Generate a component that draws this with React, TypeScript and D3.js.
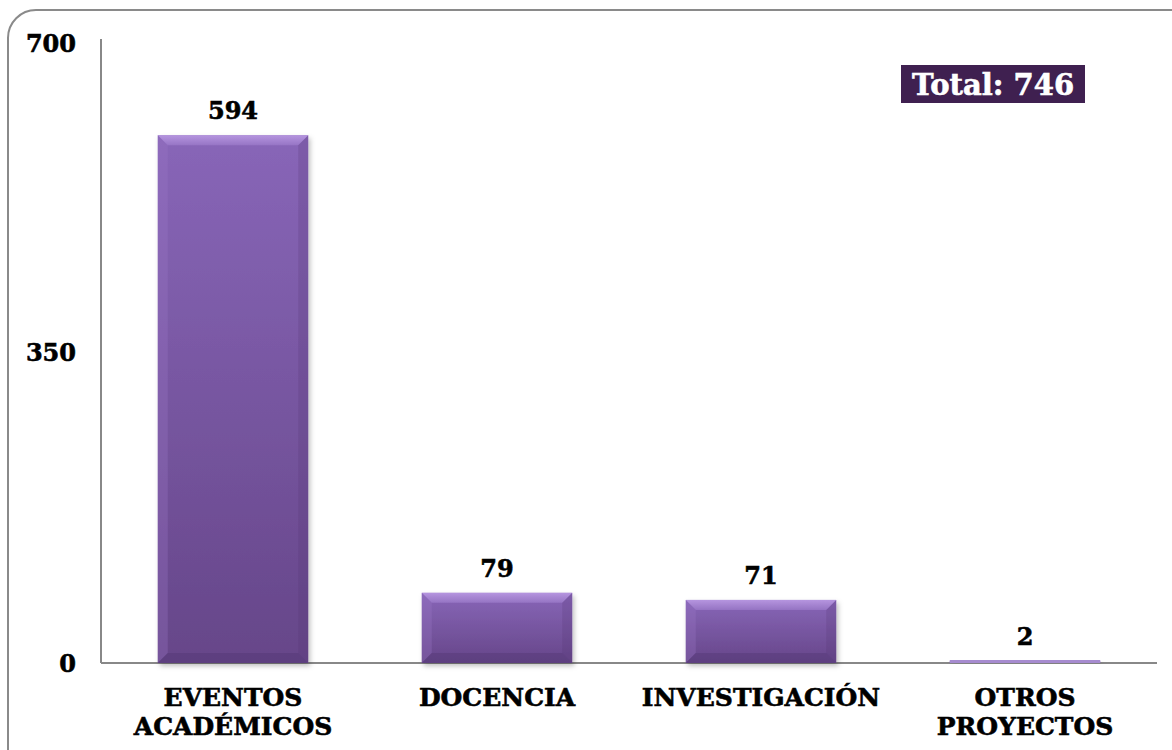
import React from "react";
import * as d3 from "d3";

const categories: string[][] = [["EVENTOS", "ACADÉMICOS"], ["DOCENCIA"], ["INVESTIGACIÓN"], ["OTROS", "PROYECTOS"]];
const values: number[] = [594, 79, 71, 2];
const yTicks: number[] = [0, 350, 700];
const totalLabel = "Total: 746";

const W = 1172, H = 750;
const FONT = "'DejaVu Serif', 'Liberation Serif', serif";

export default function App() {
  const x = d3.scaleBand<number>().domain(d3.range(values.length)).range([101, 1157]).paddingInner(0.43).paddingOuter(0.215);
  const y = d3.scaleLinear().domain([0, 700]).range([663, 41]);
  const bw = x.bandwidth();
  const bev = 10;
  return (
    <svg width={W} height={H} style={{ position: "absolute", left: 0, top: 0 }}>
      <defs>
        <linearGradient id="bar" x1="0" y1="0" x2="0" y2="1">
          <stop offset="0" stopColor="#8866b8" />
          <stop offset="1" stopColor="#664689" />
        </linearGradient>
        <linearGradient id="topBev" x1="0" y1="0" x2="0" y2="1">
          <stop offset="0" stopColor="#c9a9f0" />
          <stop offset="1" stopColor="#9d7ccb" />
        </linearGradient>
        <filter id="sh" x="-10%" y="-10%" width="120%" height="130%">
          <feDropShadow dx="2" dy="3" stdDeviation="2.5" floodColor="#000" floodOpacity="0.25" />
        </filter>
      </defs>
      <rect x={0} y={0} width={W} height={H} fill="#fff" />
      <rect x={8} y={10} width={1200} height={800} rx={28} fill="#fff" stroke="#8a8a8a" strokeWidth={2} />
      <line x1={101} x2={101} y1={39} y2={y(0)} stroke="#888" strokeWidth={2} />
      <line x1={101} x2={1157} y1={y(0)} y2={y(0)} stroke="#888" strokeWidth={2} />
      {yTicks.map((t) => (
        <text key={t} x={76} y={y(t) + (t === 700 ? 2 : 0)} textAnchor="end" dominantBaseline="central" fontFamily={FONT} fontWeight="bold" fontSize={24} fill="#000" stroke="#000" strokeWidth={0.6}>{t}</text>
      ))}
      {values.map((v, i) => {
        const x0 = x(i)!;
        const y0 = y(v);
        const y1 = y(0);
        const h = y1 - y0;
        const b = Math.min(bev, h / 2, bw / 2);
        return (
          <g key={i}>
            <rect x={x0} y={y0} width={bw} height={h} fill="url(#bar)" filter="url(#sh)" />
            {h > 6 ? (
              <g>
                <polygon points={`${x0},${y0} ${x0 + bw},${y0} ${x0 + bw - b},${y0 + b} ${x0 + b},${y0 + b}`} fill="url(#topBev)" opacity={0.7} />
                <polygon points={`${x0},${y0} ${x0 + b},${y0 + b} ${x0 + b},${y1 - b} ${x0},${y1}`} fill="#9a78c6" opacity={0.3} />
                <polygon points={`${x0 + bw},${y0} ${x0 + bw - b},${y0 + b} ${x0 + bw - b},${y1 - b} ${x0 + bw},${y1}`} fill="#4e3170" opacity={0.2} />
                <polygon points={`${x0},${y1} ${x0 + b},${y1 - b} ${x0 + bw - b},${y1 - b} ${x0 + bw},${y1}`} fill="#4a2e6a" opacity={0.3} />
              </g>
            ) : (
              <rect x={x0} y={y1 - 3} width={bw} height={3} fill="#a68bcf" />
            )}
            <text x={x0 + bw / 2} y={y0 - 16} textAnchor="middle" fontFamily={FONT} fontWeight="bold" fontSize={24} fill="#000" stroke="#000" strokeWidth={0.6}>{v}</text>
            {categories[i].map((line, j) => (
              <text key={j} x={x0 + bw / 2} y={706 + j * 29} textAnchor="middle" fontFamily={FONT} fontWeight="bold" fontSize={25} fill="#000" stroke="#000" strokeWidth={0.6}>{line}</text>
            ))}
          </g>
        );
      })}
      <rect x={901} y={65} width={184} height={38} fill="#3f2050" />
      <text x={993} y={85} textAnchor="middle" dominantBaseline="central" fontFamily={FONT} fontWeight="bold" fontSize={29} fill="#fff" stroke="#fff" strokeWidth={0.6}>{totalLabel}</text>
    </svg>
  );
}
